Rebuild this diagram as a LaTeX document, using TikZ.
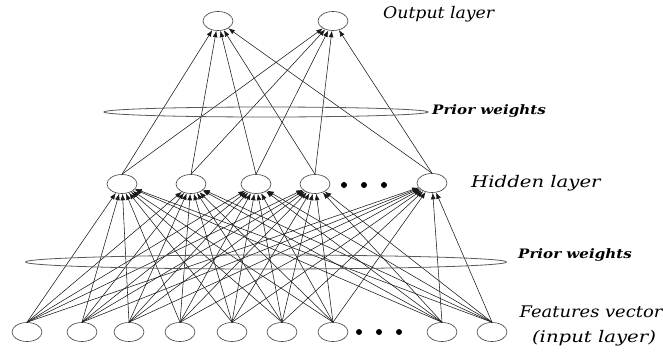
\documentclass[tikz,border=0pt]{standalone}
\usepackage{fontspec}
\usepackage{graphicx}
\newfontfamily\labfont{DejaVu Serif}
\usetikzlibrary{shapes.geometric,arrows.meta}
\begin{document}
\begin{tikzpicture}[x=1pt,y=-1pt,
  neuron/.style={draw=black!75,line width=0.6pt,ellipse,minimum width=30pt,minimum height=19pt,inner sep=0pt},
  conn/.style={draw=black!90,line width=0.55pt,-{Latex[length=6.5pt,width=4.8pt]}},
  ring/.style={draw=black!65,line width=0.8pt},
  dotnode/.style={circle,fill=black,inner sep=0pt,minimum size=6pt},
  laytext/.style={font=\labfont\itshape\fontsize{16}{19}\selectfont,inner sep=0pt,align=center},
  priortext/.style={font=\labfont\bfseries\itshape\fontsize{13}{15}\selectfont,inner sep=0pt}]
\useasboundingbox (0,0) rectangle (663,351);
% output layer
\node[neuron] (o1) at (218,21) {};
\node[neuron] (o2) at (333,21) {};
% hidden layer
\node[neuron] (h1) at (122,184) {};
\node[neuron] (h2) at (191,184) {};
\node[neuron] (h3) at (256,184) {};
\node[neuron] (h4) at (315,184) {};
\node[neuron] (h5) at (432,183) {};
\node[dotnode] (hd1) at (344,185) {};
\node[dotnode] (hd2) at (364,185) {};
\node[dotnode] (hd3) at (384,185) {};
% input layer
\node[neuron] (i1) at (27,332) {};
\node[neuron] (i2) at (82,332) {};
\node[neuron] (i3) at (129,332) {};
\node[neuron] (i4) at (180,332) {};
\node[neuron] (i5) at (232,332) {};
\node[neuron] (i6) at (282,332) {};
\node[neuron] (i7) at (333,332) {};
\node[neuron] (i8) at (442,332) {};
\node[neuron] (i9) at (492,332) {};
\node[dotnode] (id1) at (359,332) {};
\node[dotnode] (id2) at (379,332) {};
\node[dotnode] (id3) at (399,332) {};
% connections
\foreach \i in {1,...,9}{
  \foreach \h in {1,...,5}{
    \draw[conn] (i\i.north) -- (h\h);
  }
}
\foreach \h in {1,...,5}{
  \foreach \o in {1,2}{
    \draw[conn] (h\h.north) -- (o\o);
  }
}
% prior weight rings
\node[ring,ellipse,minimum width=324pt,minimum height=10pt,inner sep=0pt] (r1) at (266,112) {};
\node[ring,ellipse,minimum width=481pt,minimum height=14pt,inner sep=0pt] (r2) at (266,262) {};
% labels
\node[laytext,anchor=west] (lo) at (383,14) {\scalebox{1.08}[1]{Output layer}};
\node[laytext,anchor=west] (lh) at (471,183) {\scalebox{1.23}[1]{Hidden layer}};
\node[priortext,anchor=west] (p1) at (432,111) {\scalebox{1.16}[1]{Prior weights}};
\node[priortext,anchor=west] (p2) at (518,255) {\scalebox{1.16}[1]{Prior weights}};
\node[laytext] (lf) at (591,312) {\scalebox{1.12}[1]{Features vector}};
\node[laytext] (li) at (594,338) {\scalebox{1.23}[1]{(input layer)}};
\end{tikzpicture}
\end{document}
